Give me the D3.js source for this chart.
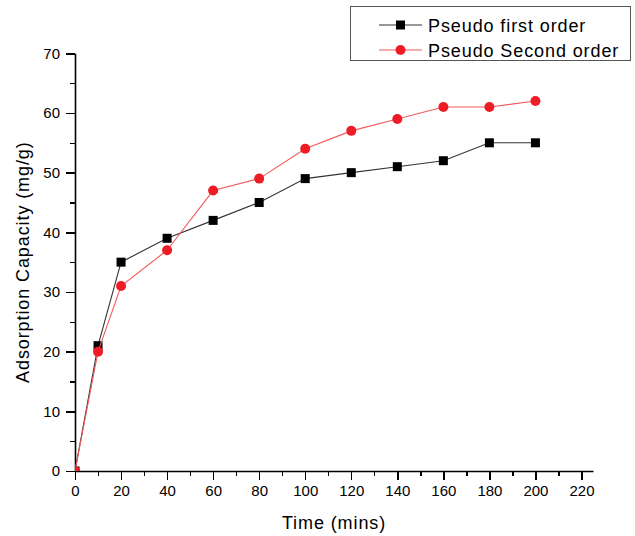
<!DOCTYPE html>
<html>
<head>
<meta charset="utf-8">
<script src="https://cdn.jsdelivr.net/npm/d3@7"></script>
<style>
  html, body { margin: 0; padding: 0; background: #fff; }
  svg { display: block; font-family: "Liberation Sans", Arial, sans-serif; }
</style>
</head>
<body>
<svg id="chart" width="635" height="536"></svg>
<script>
// Adsorption kinetics: time (mins) vs adsorption capacity (mg/g)
const times = [0, 10, 20, 40, 60, 80, 100, 120, 140, 160, 180, 200];
const firstOrder = [0, 21, 35, 39, 42, 45, 49, 50, 51, 52, 55, 55];
const secondOrder = [0, 20, 31, 37, 47, 49, 54, 57, 59, 61, 61, 62];
const seriesNames = ["Pseudo first order", "Pseudo Second order"];
const xTicks = [0, 20, 40, 60, 80, 100, 120, 140, 160, 180, 200, 220];
const yTicks = [0, 10, 20, 30, 40, 50, 60, 70];

const svg = d3.select("#chart");
const plotLeft = 75, plotRight = 593, plotTop = 53.3, plotBottom = 471;

const x = d3.scaleLinear().domain([0, 225]).range([plotLeft, plotRight]);
const y = d3.scaleLinear().domain([0, 70]).range([plotBottom, plotTop]);

// clip region for the plotted data
svg.append("defs").append("clipPath").attr("id", "plotClip")
  .append("rect").attr("x", plotLeft).attr("y", 0)
  .attr("width", plotRight - plotLeft + 20).attr("height", plotBottom);

// x axis: major ticks every 20, minor every 10
const xAxisG = svg.append("g").attr("transform", `translate(0,${plotBottom})`);
xAxisG.call(d3.axisBottom(x).tickValues(d3.range(10, 225, 20)).tickSize(5).tickFormat(""));
xAxisG.call(g => g.select(".domain").remove());
const xMajor = svg.append("g").attr("transform", `translate(0,${plotBottom})`)
  .call(d3.axisBottom(x).tickValues(xTicks).tickSize(9).tickSizeOuter(0).tickPadding(5));
xMajor.select(".domain").attr("stroke-width", 1.6);

// y axis: major ticks every 10, minor every 5
const yAxisG = svg.append("g").attr("transform", `translate(${plotLeft},0)`);
yAxisG.call(d3.axisLeft(y).tickValues(d3.range(5, 70, 10)).tickSize(5).tickFormat(""));
yAxisG.call(g => g.select(".domain").remove());
const yMajor = svg.append("g").attr("transform", `translate(${plotLeft},0)`)
  .call(d3.axisLeft(y).tickValues(yTicks).tickSize(9).tickSizeOuter(0).tickPadding(6));
yMajor.select(".domain").attr("stroke-width", 1.6);

svg.selectAll(".tick line").attr("stroke", "#000").attr("stroke-width", 1.4)
  .attr("shape-rendering", "crispEdges");
svg.selectAll(".tick text").attr("font-size", 15).attr("fill", "#000")
  .attr("font-family", "'Liberation Sans', Arial, sans-serif");

// axis titles
svg.append("text").attr("x", (plotLeft + plotRight) / 2).attr("y", 529)
  .attr("text-anchor", "middle").attr("font-size", 18).attr("letter-spacing", 0.9)
  .text("Time (mins)");
svg.append("text").attr("transform", `translate(29,${(plotTop + plotBottom) / 2}) rotate(-90)`)
  .attr("text-anchor", "middle").attr("font-size", 18).attr("letter-spacing", 0.9)
  .text("Adsorption Capacity (mg/g)");

const line = d3.line().x(d => x(d[0])).y(d => y(d[1]));
const plot = svg.append("g").attr("clip-path", "url(#plotClip)");

const s1 = times.map((t, i) => [t, firstOrder[i]]);
const s2 = times.map((t, i) => [t, secondOrder[i]]);

const colors = { first: "#000", firstLine: "#333", second: "#ee1c25", secondLine: "#f25a5a" };

// first-order series: black line with square markers
plot.append("path").datum(s1).attr("d", line)
  .attr("fill", "none").attr("stroke", colors.firstLine).attr("stroke-width", 1.1);
plot.selectAll(".sq").data(s1).join("rect").attr("class", "sq")
  .attr("x", d => x(d[0]) - 4.5).attr("y", d => y(d[1]) - 4.5)
  .attr("width", 9).attr("height", 9).attr("fill", colors.first);

// second-order series: red line with circle markers
plot.append("path").datum(s2).attr("d", line)
  .attr("fill", "none").attr("stroke", colors.secondLine).attr("stroke-width", 1.1);
plot.selectAll(".ci").data(s2).join("circle").attr("class", "ci")
  .attr("cx", d => x(d[0])).attr("cy", d => y(d[1])).attr("r", 5)
  .attr("fill", colors.second);

// legend
const lg = svg.append("g");
lg.append("rect").attr("x", 350.5).attr("y", 6.5).attr("width", 280).attr("height", 54)
  .attr("fill", "#fff").attr("stroke", "#555").attr("stroke-width", 1);
const rows = [
  { name: seriesNames[0], y: 25, stroke: colors.firstLine, shape: "square", fill: colors.first },
  { name: seriesNames[1], y: 50, stroke: colors.secondLine, shape: "circle", fill: colors.second }
];
rows.forEach(r => {
  lg.append("line").attr("x1", 379).attr("x2", 422).attr("y1", r.y).attr("y2", r.y)
    .attr("stroke", r.stroke).attr("stroke-width", 1.1);
  if (r.shape === "square") {
    lg.append("rect").attr("x", 400.5 - 4.5).attr("y", r.y - 4.5).attr("width", 9).attr("height", 9).attr("fill", r.fill);
  } else {
    lg.append("circle").attr("cx", 400.5).attr("cy", r.y).attr("r", 5).attr("fill", r.fill);
  }
  lg.append("text").attr("x", 428).attr("y", r.y + 6.5).attr("font-size", 18)
    .attr("letter-spacing", 0.9).attr("fill", "#000").text(r.name);
});
</script>
</body>
</html>
